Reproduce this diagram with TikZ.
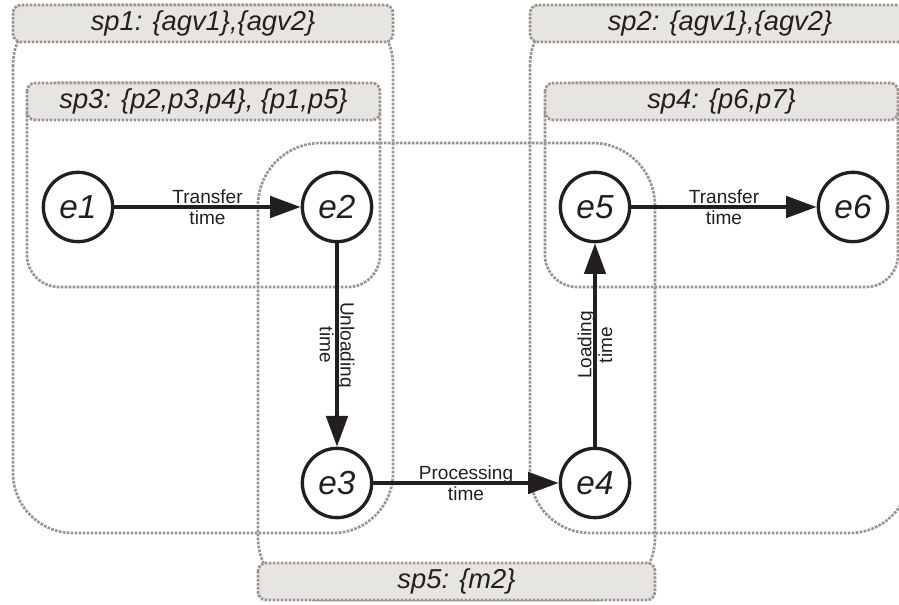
\documentclass[tikz,border=0pt]{standalone}
\usepackage{fontspec}
\setmainfont{Liberation Sans}
\usetikzlibrary{arrows.meta}
\definecolor{zoneline}{RGB}{156,146,144}
\definecolor{zonefill}{RGB}{231,229,226}
\definecolor{ink}{RGB}{35,31,32}
\begin{document}
\begin{tikzpicture}[x=0.75pt,y=-0.75pt,
  zone/.style={draw=zoneline, line width=2pt, dash pattern=on 2pt off 1pt},
  outerzone/.style={zone, rounded corners=45pt},
  innerzone/.style={zone, rounded corners=24pt},
  midzone/.style={zone, rounded corners=47pt},
  hdr/.style={zone, fill=zonefill, rounded corners=6pt},
  hdrtext/.style={font=\fontsize{20.5}{24}\selectfont\itshape, text=ink, inner sep=0pt},
  event/.style={circle, draw=ink, line width=2.5pt, fill=white, minimum size=52pt,
    inner sep=0pt, font=\fontsize{25}{30}\selectfont\itshape, text=ink},
  flow/.style={draw=ink, line width=3pt, -{Triangle[length=23pt,width=16pt]}},
  lbl/.style={align=center, font=\fontsize{14.3}{15.5}\selectfont, text=ink, inner sep=0pt}
]
\useasboundingbox (0,0) rectangle (899,605);
\begin{scope}
\clip (0,0) rectangle (899,605);

% zone outlines
\draw[outerzone] (13,5) rectangle (393,533);
\draw[outerzone] (530,5) rectangle (910,533);
\draw[innerzone] (27,83) rectangle (380,287);
\draw[innerzone] (545,83) rectangle (898,287);
\draw[midzone] (258,143) rectangle (655,600);

% zone headers
\draw[hdr] (13,5) rectangle (393,42);
\node[hdrtext] (sp1) at (203,23.5) {sp1: \{agv1\},\{agv2\}};
\draw[hdr] (530,5) rectangle (910,42);
\node[hdrtext] (sp2) at (720,23.5) {sp2: \{agv1\},\{agv2\}};
\draw[hdr] (27,83) rectangle (380,120);
\node[hdrtext] (sp3) at (203.5,101.5) {sp3: \{p2,p3,p4\}, \{p1,p5\}};
\draw[hdr] (545,83) rectangle (898,120);
\node[hdrtext] (sp4) at (721.5,101.5) {sp4: \{p6,p7\}};
\draw[hdr] (258,563) rectangle (655,600);
\node[hdrtext] (sp5) at (456.5,581.5) {sp5: \{m2\}};
\end{scope}

% events
\node[event] (e1) at (78,207) {e1};
\node[event] (e2) at (337,207) {e2};
\node[event] (e3) at (337,483) {e3};
\node[event] (e4) at (595,483) {e4};
\node[event] (e5) at (595,207) {e5};
\node[event] (e6) at (853,207) {e6};

% durations between events
\draw[flow] (e1) -- node[lbl] (t12) {Transfer\\time} (e2);
\draw[flow] (e2) -- node[lbl, rotate=-90] (t23) {Unloading\\time} (e3);
\draw[flow] (e3) -- node[lbl] (t34) {Processing\\time} (e4);
\draw[flow] (e4) -- node[lbl, rotate=90] (t45) {Loading\\time} (e5);
\draw[flow] (e5) -- node[lbl] (t56) {Transfer\\time} (e6);
\end{tikzpicture}
\end{document}
